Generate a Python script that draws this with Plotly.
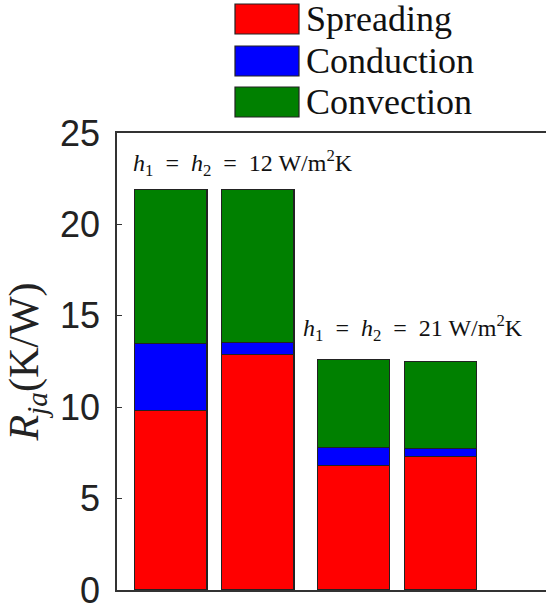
import plotly.graph_objects as go

# ---- data ----
bar_positions = [1.0, 2.0, 3.1, 4.1]
series_names = ["Spreading", "Conduction", "Convection"]
spreading = [9.8, 12.9, 6.8, 7.3]
conduction = [3.7, 0.65, 1.0, 0.45]
convection = [8.4, 8.35, 4.8, 4.75]
series_colors = ["#FF0000", "#0000FF", "#008000"]
y_ticks = [0, 5, 10, 15, 20, 25]
group_labels = ["<i>h</i><sub>1</sub>&nbsp; = &nbsp;<i>h</i><sub>2</sub>&nbsp; = &nbsp;12 W/m<sup>2</sup>K",
                "<i>h</i><sub>1</sub>&nbsp; = &nbsp;<i>h</i><sub>2</sub>&nbsp; = &nbsp;21 W/m<sup>2</sup>K"]

W, H = 546, 614
L, R, T, B = 117, 0, 133, 24
PW, PH = W - L - R, H - T - B


def px(x):
    return (x - L) / PW


def py(y):
    return (H - B - y) / PH


fig = go.Figure()
for name, vals, col in zip(series_names, [spreading, conduction, convection], series_colors):
    fig.add_trace(go.Bar(
        x=bar_positions, y=vals, name=name, width=0.83,
        marker=dict(color=col, line=dict(color="#222222", width=1.2)),
        showlegend=False,
    ))

serif = "Liberation Serif"
ann = []
# group annotations
ann.append(dict(xref="paper", yref="paper", x=px(131), y=py(163), xanchor="left", yanchor="middle",
                text=group_labels[0], showarrow=False, font=dict(family=serif, size=24, color="#111")))
ann.append(dict(xref="paper", yref="paper", x=px(301), y=py(328), xanchor="left", yanchor="middle",
                text=group_labels[1], showarrow=False, font=dict(family=serif, size=24, color="#111")))

shapes = []
# custom legend
row_centers = [19, 61, 102]
for name, col, yc in zip(series_names, series_colors, row_centers):
    shapes.append(dict(type="rect", xref="paper", yref="paper",
                       x0=px(235), x1=px(299), y0=py(yc - 15), y1=py(yc + 15),
                       fillcolor=col, line=dict(color="#222222", width=1.2)))
    ann.append(dict(xref="paper", yref="paper", x=px(304), y=py(yc), xanchor="left", yanchor="middle",
                    text=name, showarrow=False, font=dict(family=serif, size=36, color="#111")))

fig.update_layout(
    barmode="stack",
    width=W, height=H,
    margin=dict(l=L, r=R, t=T, b=B, pad=0),
    plot_bgcolor="white", paper_bgcolor="white",
    annotations=ann, shapes=shapes,
    xaxis=dict(range=[0.38, 5.31], showticklabels=False, ticks="", showgrid=False, zeroline=False,
               showline=True, linecolor="#333333", linewidth=1.5, mirror=True),
    yaxis=dict(range=[0, 25], tickvals=y_ticks, showgrid=False, zeroline=False,
               showline=True, linecolor="#333333", linewidth=1.5,
               ticks="inside", ticklen=5, tickcolor="#333333",
               tickfont=dict(family="Liberation Sans", size=36, color="#222"), ticklabelstandoff=8,
               title=dict(text="<i>R</i><sub><i>ja</i></sub>(K/W)", standoff=8,
                          font=dict(family=serif, size=42, color="#222"))),
)

fig.write_html("out.html", config={"displayModeBar": False},
               post_script="document.body.style.margin='0';document.body.style.overflow='hidden';")
